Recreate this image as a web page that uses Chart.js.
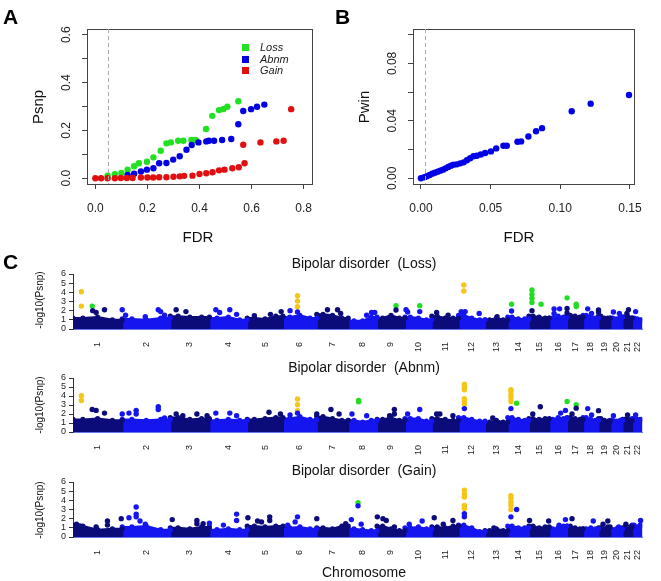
<!DOCTYPE html>
<html>
<head>
<meta charset="utf-8">
<script src="https://cdn.jsdelivr.net/npm/chart.js@4.4.0/dist/chart.umd.min.js"></script>
<style>
  body { margin: 0; background: #fff; font-family: "Liberation Sans", Arial, sans-serif; }
  .box { position: absolute; }
  .t { position: absolute; white-space: nowrap; color: #111; transform: translate(-50%, -50%); line-height: 1; }
  .rot { transform: translate(-50%, -50%) rotate(-90deg); }
  .letter { position: absolute; font-weight: bold; font-size: 21px; color: #000; line-height: 1; }
  .sq { position: absolute; width: 7px; height: 7px; }
  .lg { position: absolute; font-style: italic; font-size: 11px; color: #222; line-height: 1; }
</style>
</head>
<body>

<div class="box" style="left:0;top:0;width:330px;height:250px"><canvas id="chartA"></canvas></div>
<div class="box" style="left:330px;top:0;width:331px;height:250px"><canvas id="chartB"></canvas></div>
<div class="box" style="left:0;top:250px;width:661px;height:105px"><canvas id="chartLoss"></canvas></div>
<div class="box" style="left:0;top:355px;width:661px;height:100px"><canvas id="chartAbnm"></canvas></div>
<div class="box" style="left:0;top:455px;width:661px;height:126px"><canvas id="chartGain"></canvas></div>

<div class="letter" style="left:3px;top:6px">A</div>
<div class="letter" style="left:335px;top:6px">B</div>
<div class="letter" style="left:3px;top:251px">C</div>

<div class="t rot" style="left:37px;top:107px;font-size:15px">Psnp</div>
<div class="t" style="left:198px;top:236px;font-size:15px">FDR</div>
<div class="t rot" style="left:363px;top:107px;font-size:15px">Pwin</div>
<div class="t" style="left:519px;top:236px;font-size:15px">FDR</div>

<div class="sq" style="left:242px;top:44px;background:#22e022"></div>
<div class="lg" style="left:260px;top:42px">Loss</div>
<div class="sq" style="left:242px;top:56px;background:#0000e0"></div>
<div class="lg" style="left:260px;top:54px">Abnm</div>
<div class="sq" style="left:242px;top:67px;background:#e01010"></div>
<div class="lg" style="left:260px;top:65px">Gain</div>

<div class="t" style="left:364px;top:263px;font-size:14px">Bipolar disorder &nbsp;(Loss)</div>
<div class="t" style="left:364px;top:367px;font-size:14px">Bipolar disorder &nbsp;(Abnm)</div>
<div class="t" style="left:364px;top:470px;font-size:14px">Bipolar disorder &nbsp;(Gain)</div>
<div class="t rot" style="left:40px;top:300px;font-size:10px">-log10(Psnp)</div>
<div class="t rot" style="left:40px;top:405px;font-size:10px">-log10(Psnp)</div>
<div class="t rot" style="left:40px;top:510px;font-size:10px">-log10(Psnp)</div>
<div class="t" style="left:364px;top:572px;font-size:14px">Chromosome</div>

<script>
// ============ Panel A: Psnp vs FDR ============
const lossFdr  = [0.047,0.075,0.10,0.124,0.149,0.167,0.198,0.223,0.251,0.273,0.29,0.318,0.338,0.369,0.385,0.425,0.449,0.475,0.491,0.507,0.549];
const lossPsnp = [0.011,0.017,0.022,0.036,0.05,0.063,0.069,0.0875,0.115,0.146,0.15,0.157,0.157,0.16,0.16,0.206,0.261,0.285,0.289,0.299,0.322];
const abnmFdr  = [0.124,0.149,0.175,0.198,0.223,0.245,0.273,0.299,0.324,0.35,0.37,0.396,0.426,0.436,0.456,0.487,0.522,0.549,0.568,0.598,0.621,0.649];
const abnmPsnp = [0.014,0.019,0.028,0.036,0.042,0.063,0.064,0.078,0.092,0.119,0.139,0.15,0.154,0.157,0.157,0.16,0.164,0.226,0.281,0.289,0.299,0.308];
const gainFdr  = [0,0.022,0.047,0.075,0.098,0.121,0.143,0.175,0.2,0.222,0.245,0.273,0.3,0.324,0.341,0.373,0.40,0.426,0.45,0.475,0.496,0.526,0.551,0.568,0.573,0.634,0.695,0.723,0.752];
const gainPsnp = [0,0,0,0,0.001,0.001,0.001,0.003,0.003,0.003,0.004,0.004,0.006,0.008,0.01,0.011,0.018,0.021,0.025,0.033,0.036,0.042,0.046,0.14,0.063,0.15,0.154,0.157,0.289];
const aXTicks = [0, 0.2, 0.4, 0.6, 0.8];
const aYTicks = [0, 0.1, 0.2, 0.3, 0.4, 0.5, 0.6];
const aYLabels = [0, 0.2, 0.4, 0.6];
const aCutoff = 0.05;

// ============ Panel B: Pwin vs FDR ============
const pwinFdr = [0,0.0024,0.0043,0.0062,0.0081,0.010,0.012,0.0139,0.0158,0.0177,0.0196,0.0215,0.0234,0.0258,0.0282,0.0306,0.033,0.0353,0.0377,0.0401,0.043,0.0461,0.0502,0.054,0.0592,0.0616,0.0693,0.0719,0.0771,0.0826,0.0869,0.1082,0.1218,0.1493];
const pwinP   = [0,0.0007,0.0014,0.0023,0.0032,0.0039,0.0046,0.0053,0.006,0.0069,0.0079,0.0088,0.0095,0.0097,0.0104,0.0111,0.0125,0.0139,0.0153,0.0157,0.0166,0.0176,0.0187,0.0208,0.0227,0.0227,0.0254,0.0257,0.0291,0.0328,0.0349,0.0467,0.052,0.058];
const bXTicks = [0, 0.05, 0.10, 0.15];
const bYTicks = [0, 0.02, 0.04, 0.06, 0.08, 0.10];
const bYLabels = [0, 0.04, 0.08];
const bCutoff = 0.003;

// ============ Panel C: Manhattan plots ============
const chrNames = ['1','2','3','4','5','6','7','8','9','10','11','12','13','14','15','16','17','18','19','20','21','22'];
const chrLenMb = [249,243,198,191,181,171,159,146,141,136,135,134,115,107,103,90,81,78,59,63,48,51];
const manYTicks = [0,1,2,3,4,5,6];

// bulk of points per chromosome: top of the dense band (left, middle, right)
const lossBand = [[1.2,1.3,1.0],[1.1,1.0,1.2],[1.4,1.3,1.3],[1.2,1.3,1.0],[1.2,1.1,1.4],[1.3,1.5,1.2],[1.6,1.5,1.2],[0.9,0.9,1.3],[1.2,1.5,1.2],[1.3,1.2,1.0],[1.4,1.2,1.2],
                  [1.5,1.2,1.0],[1.0,1.2,1.0],[1.3,1.1,1.1],[1.4,1.3,1.2],[1.2,1.4,1.3],[1.5,1.4,1.3],[1.5,1.4,1.2],[1.4,1.2,1.2],[1.2,1.1,1.3],[1.3,1.4,1.2],[1.2,1.1,1.0]];
const abnmBand = [[1.4,1.5,1.3],[1.4,1.3,1.4],[1.6,1.4,1.5],[1.3,1.4,1.3],[1.4,1.5,1.6],[1.5,1.7,1.4],[1.7,1.5,1.3],[1.3,1.1,1.3],[1.4,1.6,1.3],[1.5,1.5,1.2],[1.5,1.4,1.3],
                  [1.6,1.4,1.2],[1.1,1.3,1.1],[1.6,1.4,1.3],[1.5,1.4,1.5],[1.4,1.6,1.5],[1.6,1.5,1.4],[1.6,1.4,1.3],[1.5,1.3,1.2],[1.3,1.2,1.3],[1.4,1.5,1.3],[1.5,1.4,1.4]];
const gainBand = [[1.2,0.8,0.9],[1.1,1.2,0.8],[1.0,0.9,1.1],[0.8,0.9,0.8],[1.2,1.1,1.2],[1.0,1.1,0.9],[1.0,0.9,1.2],[0.9,0.8,0.7],[1.2,0.9,0.7],[1.0,1.1,0.9],[1.1,1.0,1.2],
                  [1.3,1.0,0.6],[0.7,0.9,0.7],[1.2,1.0,1.0],[1.2,1.0,1.1],[0.9,1.0,1.2],[1.2,1.0,0.9],[0.9,1.0,0.9],[1.0,0.9,1.1],[0.8,0.9,0.9],[1.0,0.9,1.1],[1.3,1.1,1.3]];

// standing-out points: [chromosome, position within chromosome (0-1), -log10(Psnp), class]
// class: 'y' = significant, 'g' = suggestive, 'c' = ordinary
const lossPeaks = [
  [1,0.17,4.07,'y'],[1,0.17,2.5,'y'],[1,0.39,2.5,'g'],[1,0.40,2.0,'c'],[1,0.47,1.8,'c'],[1,0.64,2.1,'c'],
  [2,0.0,2.1,'c'],[2,0.07,1.5,'c'],[2,0.48,1.35,'c'],[2,0.75,2.1,'c'],[2,0.8,1.9,'c'],[2,0.88,1.5,'c'],
  [3,0.15,2.1,'c'],[3,0.4,1.9,'c'],
  [4,0.17,2.1,'c'],[4,0.27,1.8,'c'],[4,0.54,2.1,'c'],[4,0.72,1.6,'c'],
  [5,0.2,1.45,'c'],[5,0.65,1.6,'c'],[5,0.95,1.9,'c'],
  [6,0.21,2.0,'c'],[6,0.43,3.64,'y'],[6,0.43,3.05,'y'],[6,0.43,2.44,'y'],[6,0.43,1.85,'c'],
  [7,0.34,2.1,'c'],[7,0.66,2.1,'c'],[7,0.76,1.7,'c'],
  [8,0.64,1.5,'c'],[8,0.81,1.8,'c'],[8,0.92,1.8,'c'],
  [9,0.68,2.55,'g'],[9,0.68,2.07,'c'],
  [10,0.04,2.1,'c'],[10,0.1,1.85,'c'],[10,0.55,2.55,'g'],[10,0.55,1.9,'c'],
  [11,0.18,1.8,'c'],[11,0.61,1.5,'c'],
  [12,0.2,4.8,'y'],[12,0.2,4.15,'y'],[12,0.1,1.9,'c'],[12,0.25,1.9,'c'],[12,0.78,1.7,'c'],
  [13,0.53,1.35,'c'],
  [14,0.18,2.7,'g'],[14,0.18,1.96,'c'],
  [15,0.15,4.25,'g'],[15,0.15,3.78,'g'],[15,0.15,3.35,'g'],[15,0.15,2.9,'g'],[15,0.15,2.0,'c'],[15,0.6,2.7,'g'],
  [16,0.27,2.2,'c'],[16,0.58,2.2,'c'],[16,0.27,1.7,'c'],
  [17,0.0,3.4,'g'],[17,0.0,2.25,'c'],[17,0.0,1.75,'c'],[17,0.57,2.7,'g'],[17,0.57,2.45,'g'],
  [18,0.3,2.2,'c'],[18,0.55,1.7,'c'],
  [19,0.0,2.07,'c'],[19,0.0,1.85,'c'],
  [20,0.26,1.85,'c'],[20,0.74,1.7,'c'],
  [21,0.62,2.1,'c'],[21,0.45,1.7,'c'],
  [22,0.35,1.9,'c']
];
const abnmPeaks = [
  [1,0.17,4.04,'y'],[1,0.17,3.5,'y'],[1,0.39,2.5,'c'],[1,0.47,2.4,'c'],[1,0.64,2.1,'c'],
  [2,0.0,2.0,'c'],[2,0.14,2.1,'c'],[2,0.29,2.4,'c'],[2,0.29,2.0,'c'],[2,0.75,2.8,'c'],[2,0.75,2.5,'c'],[2,0.88,1.55,'c'],
  [3,0.15,2.0,'c'],[3,0.32,1.8,'c'],[3,0.68,2.0,'c'],[3,0.94,1.8,'c'],
  [4,0.17,2.1,'c'],[4,0.54,2.1,'c'],[4,0.72,1.8,'c'],
  [5,0.61,2.2,'c'],[5,0.93,2.0,'c'],
  [6,0.43,3.67,'y'],[6,0.43,3.04,'y'],[6,0.43,2.37,'y'],[6,0.43,2.1,'c'],[6,0.21,1.9,'c'],
  [7,0.0,2.0,'c'],[7,0.45,2.5,'c'],[7,0.71,2.0,'c'],
  [8,0.36,3.5,'g'],[8,0.36,3.35,'g'],[8,0.13,2.0,'c'],[8,0.64,1.8,'c'],
  [9,0.62,2.5,'c'],[9,0.62,2.0,'c'],[9,0.45,1.8,'c'],
  [10,0.55,2.5,'c'],[10,0.1,2.0,'c'],
  [11,0.18,2.0,'c'],[11,0.3,2.0,'c'],[11,0.79,1.8,'c'],
  [12,0.22,5.3,'y'],[12,0.22,5.0,'y'],[12,0.22,4.7,'y'],[12,0.22,3.7,'y'],[12,0.22,3.4,'y'],[12,0.22,3.1,'y'],[12,0.22,2.6,'c'],
  [13,0.34,1.55,'c'],
  [14,0.15,4.7,'y'],[14,0.15,4.5,'y'],[14,0.15,4.15,'y'],[14,0.15,3.8,'y'],[14,0.15,3.4,'y'],[14,0.15,2.6,'c'],[14,0.42,3.2,'g'],
  [15,0.56,2.8,'c'],[15,0.19,2.0,'c'],
  [16,0.64,2.1,'c'],[16,0.91,2.4,'c'],
  [17,0.0,3.4,'g'],[17,0.57,3.04,'g'],[17,0.57,2.65,'c'],[17,0.31,2.0,'c'],
  [18,0.3,2.6,'c'],[18,0.55,1.9,'c'],
  [19,0.0,2.37,'c'],
  [20,0.26,1.8,'c'],
  [21,0.52,1.9,'c'],
  [22,0.35,1.9,'c']
];
const gainPeaks = [
  [1,0.07,1.4,'c'],[1,0.14,1.2,'c'],[1,0.47,1.1,'c'],[1,0.7,1.75,'c'],[1,0.7,1.3,'c'],[1,0.98,2.0,'c'],
  [2,0.14,2.1,'c'],[2,0.29,3.27,'c'],[2,0.29,2.5,'c'],[2,0.29,2.2,'c'],[2,0.37,1.75,'c'],[2,0.48,1.4,'c'],
  [3,0.05,1.9,'c'],[3,0.68,1.8,'c'],[3,0.68,1.45,'c'],[3,0.84,1.45,'c'],
  [4,0.0,1.5,'c'],[4,0.72,2.5,'c'],[4,0.72,1.8,'c'],[4,0.37,1.3,'c'],
  [5,0.02,2.1,'c'],[5,0.29,1.75,'c'],[5,0.4,1.65,'c'],[5,0.63,2.2,'c'],[5,0.63,1.8,'c'],
  [6,0.14,1.3,'c'],[6,0.43,2.2,'c'],[6,0.36,1.65,'c'],
  [7,0.0,2.0,'c'],[7,0.92,1.45,'c'],
  [8,0.11,1.9,'c'],[8,0.34,3.75,'g'],[8,0.34,3.4,'c'],[8,0.45,1.4,'c'],
  [9,0.01,2.2,'c'],[9,0.21,2.0,'c'],[9,0.33,1.8,'c'],[9,0.62,1.1,'c'],
  [10,0.64,1.75,'c'],[10,0.16,1.4,'c'],
  [11,0.09,2.1,'c'],[11,0.79,1.8,'c'],[11,0.43,1.4,'c'],
  [12,0.22,5.1,'y'],[12,0.22,4.7,'y'],[12,0.22,4.36,'y'],[12,0.22,3.45,'y'],[12,0.22,3.1,'y'],[12,0.22,2.55,'c'],[12,0.22,2.2,'c'],
  [13,0.39,1.0,'c'],
  [14,0.15,4.5,'y'],[14,0.15,4.2,'y'],[14,0.15,3.8,'y'],[14,0.15,3.45,'y'],[14,0.15,3.0,'y'],[14,0.15,2.2,'c'],[14,0.42,3.0,'c'],
  [15,0.03,1.8,'c'],[15,0.97,1.75,'c'],
  [16,0.91,1.9,'c'],[16,0.55,1.3,'c'],
  [17,0.31,2.0,'c'],
  [18,0.66,1.75,'c'],
  [19,0.8,1.75,'c'],[19,0.39,1.4,'c'],
  [20,0.68,1.1,'c'],
  [21,0.34,1.4,'c'],
  [22,0.84,1.8,'c']
];

// ============ styles ============
const FONT = '"Liberation Sans", Arial, sans-serif';
const NAVY = '#0b0b7a';
const BLUE = '#1515f0';
const CLASS_COLOR = { y: '#f5c518', g: '#22dd22' };

const chrStart = [];
chrLenMb.reduce((acc, len) => { chrStart.push(acc); return acc + len; }, 0);
const genomeEnd = chrStart[chrStart.length - 1] + chrLenMb[chrLenMb.length - 1];
const chrMid = chrStart.map((s, i) => s + chrLenMb[i] / 2);
const chrColor = i => (i % 2 === 0 ? NAVY : BLUE);

// ============ plugin: R-style box, cutoff line and rotated y labels ============
const rPlot = {
  id: 'rPlot',
  afterDraw(chart, args, opts) {
    const { ctx, chartArea: a, scales } = chart;
    ctx.save();
    if (opts.box) {
      ctx.strokeStyle = '#444';
      ctx.lineWidth = 1;
      ctx.strokeRect(Math.round(a.left) + 0.5, Math.round(a.top) + 0.5, Math.round(a.right - a.left), Math.round(a.bottom - a.top));
    }
    if (opts.cutoff != null) {
      const px = Math.round(scales.x.getPixelForValue(opts.cutoff)) + 0.5;
      ctx.setLineDash([4, 3]);
      ctx.strokeStyle = '#aaa';
      ctx.lineWidth = 1;
      ctx.beginPath();
      ctx.moveTo(px, a.top);
      ctx.lineTo(px, a.bottom);
      ctx.stroke();
      ctx.setLineDash([]);
    }
    if (opts.yLabels) {
      ctx.fillStyle = '#222';
      ctx.font = '12px ' + FONT;
      ctx.textAlign = 'center';
      ctx.textBaseline = 'middle';
      opts.yLabels.forEach(v => {
        const py = scales.y.getPixelForValue(v);
        ctx.save();
        ctx.translate(opts.yLabelX, py);
        ctx.rotate(-Math.PI / 2);
        ctx.fillText(v.toFixed(opts.decimals), 0, 0);
        ctx.restore();
      });
    }
    ctx.restore();
  }
};

function xy(xs, ys) {
  return xs.map((x, i) => ({ x: x, y: ys[i] }));
}

// ============ scatter panel (A, B) ============
function panelScatter(id, datasets, cfg) {
  return new Chart(document.getElementById(id), {
    type: 'scatter',
    data: { datasets: datasets },
    options: {
      responsive: true,
      maintainAspectRatio: false,
      animation: false,
      events: [],
      layout: { padding: { left: 0, top: 29, right: cfg.right, bottom: 0 } },
      plugins: {
        legend: { display: false },
        tooltip: { enabled: false },
        rPlot: { box: true, cutoff: cfg.cutoff, yLabels: cfg.yLabels, yLabelX: cfg.yLabelX, decimals: cfg.yDecimals }
      },
      scales: {
        x: {
          type: 'linear', min: cfg.xMin, max: cfg.xMax,
          afterBuildTicks: s => { s.ticks = cfg.xTicks.map(v => ({ value: v })); },
          afterFit: s => { s.height = 66; },
          grid: { drawOnChartArea: false, drawTicks: true, tickLength: 5, color: '#444' },
          border: { display: false },
          ticks: { color: '#222', padding: 12, font: { family: FONT, size: 12 }, callback: v => v.toFixed(cfg.xDecimals) }
        },
        y: {
          type: 'linear', min: cfg.yMin, max: cfg.yMax,
          afterBuildTicks: s => { s.ticks = cfg.yTicks.map(v => ({ value: v })); },
          afterFit: s => { s.width = cfg.left; },
          grid: { drawOnChartArea: false, drawTicks: true, tickLength: 5, color: '#444' },
          border: { display: false },
          ticks: { display: false }
        }
      }
    },
    plugins: [rPlot]
  });
}

panelScatter('chartA', [
  { label: 'Gain', data: xy(gainFdr, gainPsnp), backgroundColor: '#e01010', borderWidth: 0, pointRadius: 3.2 },
  { label: 'Abnm', data: xy(abnmFdr, abnmPsnp), backgroundColor: '#0000e0', borderWidth: 0, pointRadius: 3.2 },
  { label: 'Loss', data: xy(lossFdr, lossPsnp), backgroundColor: '#22e022', borderWidth: 0, pointRadius: 3.2 }
], {
  left: 87, right: 18, xMin: -0.032, xMax: 0.832, yMin: -0.024, yMax: 0.624,
  xTicks: aXTicks, yTicks: aYTicks, yLabels: aYLabels, yLabelX: 67, xDecimals: 1, yDecimals: 1, cutoff: aCutoff
});

panelScatter('chartB', [
  { label: 'Pwin', data: xy(pwinFdr, pwinP), backgroundColor: '#0000e6', borderWidth: 0, pointRadius: 3.2 }
], {
  left: 83, right: 27, xMin: -0.0057, xMax: 0.1529, yMin: -0.004, yMax: 0.104,
  xTicks: bXTicks, yTicks: bYTicks, yLabels: bYLabels, yLabelX: 63, xDecimals: 2, yDecimals: 2, cutoff: bCutoff
});

// ============ Manhattan panel ============
function panelManhattan(id, band, peaks, g) {
  const datasets = [];
  datasets.push({
    label: 'peaks',
    order: 0,
    clip: false,
    data: peaks.map(p => ({ x: chrStart[p[0] - 1] + p[1] * chrLenMb[p[0] - 1], y: p[2] })),
    backgroundColor: peaks.map(p => CLASS_COLOR[p[3]] || chrColor(p[0] - 1)),
    borderWidth: 0,
    pointRadius: 2.7
  });
  band.forEach((h, i) => {
    const s = chrStart[i], L = chrLenMb[i];
    datasets.push({
      label: 'chr' + chrNames[i],
      order: 1,
      showLine: true,
      fill: 'origin',
      data: [
        { x: s, y: 0 }, { x: s, y: h[0] }, { x: s + L * 0.2, y: h[0] }, { x: s + L * 0.5, y: h[1] },
        { x: s + L * 0.8, y: h[2] }, { x: s + L, y: h[2] }, { x: s + L, y: 0 }
      ],
      backgroundColor: chrColor(i),
      borderColor: chrColor(i),
      borderWidth: 2,
      borderJoinStyle: 'round',
      pointRadius: [0, 2.6, 2.6, 2.6, 2.6, 2.6, 0],
      pointBackgroundColor: chrColor(i),
      pointBorderWidth: 0
    });
  });

  return new Chart(document.getElementById(id), {
    type: 'scatter',
    data: { datasets: datasets },
    options: {
      responsive: true,
      maintainAspectRatio: false,
      animation: false,
      events: [],
      layout: { padding: { left: 0, top: g.top, right: 6, bottom: 0 } },
      plugins: { legend: { display: false }, tooltip: { enabled: false } },
      scales: {
        x: {
          type: 'linear', min: 0, max: genomeEnd,
          afterBuildTicks: s => { s.ticks = chrMid.map(v => ({ value: v })); },
          afterFit: s => { s.height = g.axisH; },
          grid: { display: false, drawTicks: false },
          border: { display: true, color: '#6a78ee', width: 1 },
          ticks: {
            autoSkip: false, minRotation: 90, maxRotation: 90, padding: 13,
            color: '#222', font: { family: FONT, size: 9 },
            callback: (v, i) => chrNames[i]
          }
        },
        y: {
          type: 'linear', min: 0, max: 6,
          afterBuildTicks: s => { s.ticks = manYTicks.map(v => ({ value: v })); },
          afterFit: s => { s.width = 73; },
          grid: { drawOnChartArea: false, drawTicks: true, tickLength: 4, color: '#333' },
          border: { display: true, color: '#333', width: 1 },
          ticks: { autoSkip: false, color: '#222', padding: 3, font: { family: FONT, size: 9, lineHeight: 1 } }
        }
      }
    }
  });
}

panelManhattan('chartLoss', lossBand, lossPeaks, { top: 24, axisH: 26 });
panelManhattan('chartAbnm', abnmBand, abnmPeaks, { top: 23, axisH: 23 });
panelManhattan('chartGain', gainBand, gainPeaks, { top: 27, axisH: 44 });
</script>
</body>
</html>
